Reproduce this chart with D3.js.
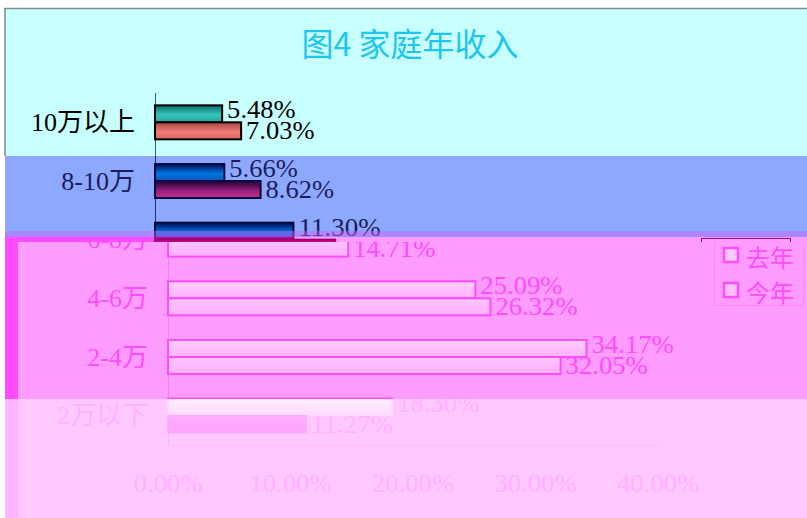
<!DOCTYPE html>
<html>
<head>
<meta charset="utf-8">
<script src="https://cdn.jsdelivr.net/npm/d3@7"></script>
<style>
  html, body { margin: 0; padding: 0; background: #ffffff; }
  svg { display: block; }
</style>
</head>
<body>
<div id="chart"></div>
<script>
// Household annual income, last year vs this year (%)
const categories = ["10万以上", "8-10万", "6-8万", "4-6万", "2-4万", "2万以下"];
const seriesNames = ["去年", "今年"];
const lastYear = [5.48, 5.66, 11.30, 25.09, 34.17, 18.30];
const thisYear = [7.03, 8.62, 14.71, 26.32, 32.05, 11.27];
const tickValues = [0, 10, 20, 30, 40];
const titleText = "图4 家庭年收入";

const W = 807, H = 518;
const svg = d3.select("#chart").append("svg").attr("width", W).attr("height", H);
const defs = svg.append("defs");

const x = d3.scaleLinear().domain([0, 40]).range([155, 645]);
const y = d3.scaleBand().domain(categories).range([93, 445]);
const barH = 17;
const fmt = v => d3.format(".2f")(v) + "%";

// colour schemes for each horizontal band of the page
const styles = {
  A: { text: "#000000", axis: "#4a5868", outline: ["#000000", "#000000"], ow: 2,
       grad: [["#0c6a66", "#34c6be", "#28a49c"], ["#a84646", "#f27c74", "#e0665e"]],
       legendBorder: "#000", legendFill: ["#30b8b0", "#f07070"], legendMark: "#000" },
  B: { text: "#1c1c5c", axis: "#2a2a60", outline: ["#0a0a40", "#0a0a40"], ow: 2,
       grad: [["#000850", "#0076de", "#0058c0"], ["#1e0030", "#92207a", "#c2308e"]],
       legendBorder: "#1c1c5c", legendFill: ["#0070d8", "#a02880"], legendMark: "#0a0a40" },
  M: { text: "#b0008a", axis: "#a00080", outline: ["#9a0070", "#9a0070"], ow: 2,
       grad: [["#d0008c", "#d0008c", "#d0008c"], ["#d0008c", "#d4008e", "#d0008c"]],
       legendBorder: "#b0008a", legendFill: ["#d0008c", "#d0008c"], legendMark: "#9a0070" },
  C: { text: "#ff4cff", axis: "#ff78ff", outline: ["#ff4cff", "#ff4cff"], ow: 2,
       grad: [["#ffd0ff", "#ffbcff", "#ffb4ff"], ["#ffc8ff", "#ffb8ff", "#ffb0ff"]],
       legendBorder: "#ff84ff", legendFill: ["#ffc8ff", "#ffc0ff"], legendMark: "#ff4cff" },
  D: { text: "#ffb2ff", axis: "#ffb0ff", outline: ["#ffd6ff", "#ffa8ff"], ow: 1.5,
       grad: [["#fff0ff", "#ffe2ff", "#ffdcff"], ["#ffb0ff", "#ffa6ff", "#ffa2ff"]],
       legendBorder: "#ffb0ff", legendFill: ["#ffe0ff", "#ffa8ff"], legendMark: "#ffb2ff" }
};

// vertical gradients for the bars
Object.entries(styles).forEach(([key, st]) => {
  st.grad.forEach((stops, i) => {
    const lg = defs.append("linearGradient")
      .attr("id", `g-${key}-${i}`).attr("x1", 0).attr("y1", 0).attr("x2", 0).attr("y2", 1);
    lg.append("stop").attr("offset", "0%").attr("stop-color", stops[0]);
    lg.append("stop").attr("offset", "55%").attr("stop-color", stops[1]);
    lg.append("stop").attr("offset", "100%").attr("stop-color", stops[2]);
  });
});

const numFont = "'Liberation Serif', 'DejaVu Serif', serif";
const labelFont = "'Liberation Serif', 'Noto Sans CJK SC', serif";

function numText(g, str, px, py, color, anchor) {
  const len = str.length * 13.7;
  g.append("text")
    .attr("x", anchor === "middle" ? px - len / 2 : px)
    .attr("y", py)
    .attr("dominant-baseline", "central")
    .attr("font-family", numFont)
    .attr("font-size", 25)
    .attr("textLength", len)
    .attr("lengthAdjust", "spacingAndGlyphs")
    .attr("fill", color)
    .text(str);
}

// draws the chart body with a colour scheme and horizontal offset;
// each text goes to the single band whose text range holds its centre line
function drawChart(g, key, dx, y0, y1, tr) {
  const st = styles[key];
  const c = g.append("g").attr("transform", `translate(${dx},0)`);
  const owns = cy => tr !== null && cy >= tr[0] && cy < tr[1];

  // category axis line and value baseline
  c.append("line").attr("x1", x(0) + 0.5).attr("x2", x(0) + 0.5)
    .attr("y1", Math.max(y.range()[0], y0)).attr("y2", Math.min(y.range()[1], y1))
    .attr("stroke", st.axis).attr("stroke-width", 1);
  if (y.range()[1] >= y0 && y.range()[1] < y1) {
    c.append("line").attr("x1", x(0)).attr("x2", x(40) + 2)
      .attr("y1", y.range()[1] + 0.5).attr("y2", y.range()[1] + 0.5)
      .attr("stroke", st.axis).attr("stroke-width", 1).attr("opacity", 0.6);
  }

  // category labels
  c.selectAll("text.cat")
    .data(categories.filter(d => owns(y(d) + y.bandwidth() / 2)))
    .join("text")
    .attr("class", "cat")
    .attr("x", 135).attr("y", d => y(d) + y.bandwidth() / 2)
    .attr("text-anchor", "end").attr("dominant-baseline", "central")
    .attr("font-family", labelFont).attr("font-size", 26)
    .attr("fill", st.text).text(d => d);

  [lastYear, thisYear].forEach((vals, si) => {
    const rows = categories.map((cat, i) => ({ cat, v: vals[i] }));
    const top = d => y(d.cat) + y.bandwidth() / 2 - (si === 0 ? barH : 0);
    c.selectAll(`rect.s${si}`)
      .data(rows.filter(d => top(d) < y1 && top(d) + barH > y0))
      .join("rect")
      .attr("class", `s${si}`)
      .attr("x", x(0))
      .attr("y", top)
      .attr("width", d => x(d.v) - x(0))
      .attr("height", barH)
      .attr("fill", `url(#g-${key}-${si})`)
      .attr("stroke", st.outline[si]).attr("stroke-width", st.ow);
    rows.forEach(d => {
      const cy = y(d.cat) + y.bandwidth() / 2 + (si === 0 ? -barH / 2 - 4 : barH / 2);
      if (owns(cy)) numText(c, fmt(d.v), x(d.v) + 5, cy, st.text, "start");
    });
  });

  // value axis tick labels
  if (owns(483)) {
    tickValues.forEach(t => numText(c, d3.format(".2f")(t) + "%", x(t), 483, st.text, "middle"));
  }

  // legend
  const lgY = 238;
  if (lgY < y1 && lgY + 68 > y0) {
    const lg = c.append("g").attr("transform", `translate(701,${lgY})`);
    lg.append("rect").attr("x", 0.5).attr("y", 0.5).attr("width", 89).attr("height", 67)
      .attr("fill", "none").attr("stroke", st.legendBorder).attr("stroke-width", 1);
    seriesNames.forEach((name, i) => {
      lg.append("rect").attr("x", 10).attr("y", 10 + i * 35).attr("width", 14).attr("height", 14)
        .attr("fill", st.legendFill[i]).attr("stroke", st.legendMark).attr("stroke-width", 2.5);
      if (owns(lgY + 18 + i * 35)) {
        lg.append("text").attr("x", 32).attr("y", 18 + i * 35)
          .attr("dominant-baseline", "central")
          .attr("font-family", "'Noto Sans CJK SC', sans-serif").attr("font-size", 24)
          .attr("fill", st.text).text(name);
      }
    });
  }
}

// horizontal bands: background, left strip, scheme, offset, text range
const bands = [
  { y0: 8, y1: 156, bg: "#c8ffff", strip: null, key: "A", dx: 0, tr: [0, 156] },
  { y0: 156, y1: 237, bg: "#8ca8ff", strip: null, key: "B", dx: 0, tr: [156, 237] },
  { y0: 237, y1: 242, bg: "#ff9cff", strip: { w: 160, c: "#ff4cff" }, key: "M", dx: 0, tr: null },
  { y0: 242, y1: 399, bg: "#ff9cff", strip: { w: 13, c: "#ff4cff" }, key: "C", dx: 13, tr: [237, 399] },
  { y0: 399, y1: 518, bg: "#ffc8ff", strip: { w: 13, c: "#ffb4ff" }, key: "D", dx: 13, tr: [399, 518] }
];

bands.forEach((b, i) => {
  const id = `clip-${i}`;
  defs.append("clipPath").attr("id", id).append("rect")
    .attr("x", 5).attr("y", b.y0).attr("width", W - 5).attr("height", b.y1 - b.y0);
  const g = svg.append("g").attr("clip-path", `url(#${id})`);
  g.append("rect").attr("x", 5).attr("y", b.y0).attr("width", W - 5).attr("height", b.y1 - b.y0)
    .attr("fill", b.bg);
  if (b.strip) {
    g.append("rect").attr("x", 5).attr("y", b.y0).attr("width", b.strip.w).attr("height", b.y1 - b.y0)
      .attr("fill", b.strip.c);
  }
  drawChart(g, b.key, b.dx, b.y0, b.y1, b.tr);
  if (b.key === "A") {
    g.append("text").attr("x", 410).attr("y", 42)
      .attr("text-anchor", "middle").attr("dominant-baseline", "central")
      .attr("font-family", "'Noto Sans CJK SC', sans-serif").attr("font-size", 32)
      .attr("fill", "#1ec6ee").text(titleText);
  }
});

// violet tint across the seam between the blue and pink bands
svg.append("rect").attr("x", 5).attr("y", 231).attr("width", W - 5).attr("height", 6)
  .attr("fill", "#d060ff").attr("opacity", 0.45);

// outer frame edges of the top band
svg.append("line").attr("x1", 4).attr("x2", W).attr("y1", 8.5).attr("y2", 8.5)
  .attr("stroke", "#7a8e8c").attr("stroke-width", 1.5);
svg.append("line").attr("x1", 5).attr("x2", 5).attr("y1", 8).attr("y2", 156)
  .attr("stroke", "#7a8e8c").attr("stroke-width", 1.5);
</script>
</body>
</html>
